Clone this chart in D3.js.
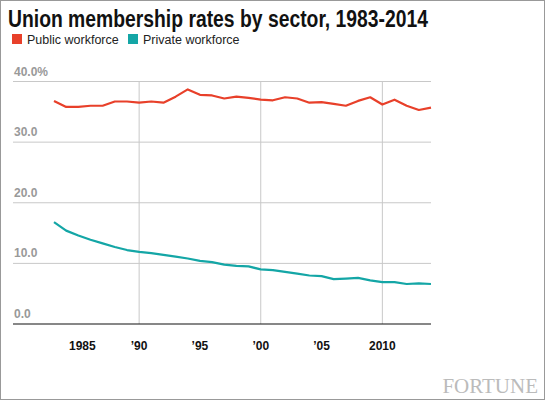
<!DOCTYPE html>
<html><head><meta charset="utf-8">
<script src="https://cdn.jsdelivr.net/npm/d3@7"></script>
<style>body{margin:0;background:#fff}svg{display:block}</style>
</head><body>
<script>
const years = d3.range(1983, 2015);
const publicRate = [36.8,35.8,35.8,36.0,36.0,36.7,36.7,36.5,36.7,36.5,37.5,38.7,37.8,37.7,37.2,37.5,37.3,37.0,36.9,37.4,37.2,36.5,36.6,36.3,36.0,36.8,37.4,36.2,37.0,36.0,35.3,35.7];
const privateRate = [16.8,15.4,14.6,13.9,13.3,12.7,12.2,11.9,11.7,11.4,11.1,10.8,10.4,10.2,9.8,9.6,9.5,9.0,8.9,8.6,8.3,8.0,7.9,7.4,7.5,7.6,7.2,6.9,6.9,6.6,6.7,6.6];
const yTicks = [0,10,20,30,40];
const yTickLabels = ["0.0","10.0","20.0","30.0","40.0%"];
const xTicks = [1985,1990,1995,2000,2005,2010];
const xTickLabels = ["1985","’90","’95","’00","’05","2010"];
const xGrid = [1990,2000,2010];
const seriesNames = ["Public workforce","Private workforce"];
const colors = ["#e8402a","#14a6a6"];

const W=545,H=400;
const svg=d3.select("body").append("svg").attr("width",W).attr("height",H);
svg.append("rect").attr("x",0.5).attr("y",0.5).attr("width",W-1).attr("height",H-1).attr("fill","#fff").attr("stroke","#999");
const x=d3.scaleLinear().domain([1983,2014]).range([54,431]);
const y=d3.scaleLinear().domain([0,40]).range([324,81.5]);
const f="'Liberation Sans', Arial, sans-serif";

svg.append("text").attr("x",8).attr("y",27).text("Union membership rates by sector, 1983-2014")
 .attr("font-family","'Liberation Sans', sans-serif").attr("font-weight","bold").attr("font-size",23)
 .attr("textLength",420).attr("lengthAdjust","spacingAndGlyphs").attr("fill","#111");
seriesNames.forEach((n,i)=>{
  const lx=[12,128][i];
  svg.append("rect").attr("x",lx).attr("y",34).attr("width",10).attr("height",10).attr("fill",colors[i]);
  svg.append("text").attr("x",lx+15).attr("y",43.5).text(n).attr("font-family",f).attr("font-size",12.5).attr("fill","#222");
});
yTicks.slice(1).forEach(t=>svg.append("line").attr("x1",13).attr("x2",431).attr("y1",y(t)).attr("y2",y(t)).attr("stroke","#c8c8c8"));
xGrid.forEach(t=>svg.append("line").attr("x1",x(t)).attr("x2",x(t)).attr("y1",y(40)).attr("y2",y(0)).attr("stroke","#c8c8c8"));
yTicks.forEach((t,i)=>svg.append("text").attr("x",14).attr("y",y(t)-6).text(yTickLabels[i])
 .attr("font-family",f).attr("font-weight","bold").attr("font-size",12).attr("fill","#999"));
svg.append("line").attr("x1",13).attr("x2",431).attr("y1",y(0)).attr("y2",y(0)).attr("stroke","#111").attr("stroke-width",1.2);
xTicks.forEach((t,i)=>svg.append("text").attr("x",t===1985?x(t)+4:x(t)).attr("y",350).attr("text-anchor","middle").text(xTickLabels[i])
 .attr("font-family",f).attr("font-weight","bold").attr("font-size",12).attr("fill","#111"));
const line=d3.line().x((d,i)=>x(years[i])).y(d=>y(d));
[publicRate,privateRate].forEach((s,i)=>svg.append("path").attr("d",line(s)).attr("fill","none").attr("stroke",colors[i]).attr("stroke-width",2.2).attr("stroke-linejoin","round"));
svg.append("text").attr("x",538).attr("y",393).attr("text-anchor","end").text("FORTUNE")
 .attr("font-family","'Liberation Serif', serif").attr("font-size",21).attr("fill","#bbb");
</script>
</body></html>
